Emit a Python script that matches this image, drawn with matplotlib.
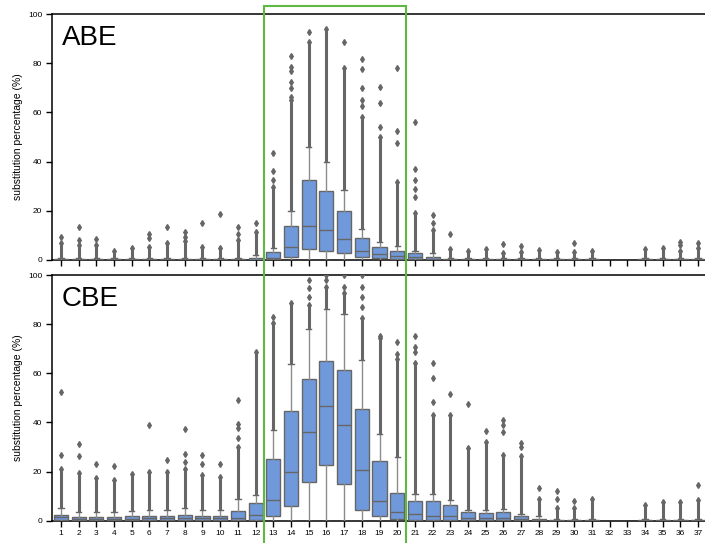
import matplotlib
matplotlib.use("Agg")
import matplotlib.pyplot as plt
import matplotlib.transforms as mtransforms
from matplotlib.patches import Rectangle

plt.rcParams['font.family'] = ['Liberation Sans', 'DejaVu Sans']

positions = list(range(1, 38))
tick_labels = [str(p) for p in positions]
N = None

# ---- ABE ----
abe_q1 = [0]*11 + [0, 0.3, 1.3, 4.3, 3.8, 2.7, 1.1, 0.7, 0.4, 0.3, 0.1] + [0]*15
abe_med = [0]*11 + [0.1, 0.8, 5.1, 13.7, 12.2, 8.4, 3.5, 2.3, 1.8, 1.1, 0.5] + [0]*15
abe_q3 = [0.3]*11 + [0.8, 3.1, 13.7, 32.4, 28.2, 19.9, 8.8, 5.1, 3.8, 2.7, 1.4] + [0.3]*15
abe_whishi = [0.7]*11 + [2.0, 4.7, 19.8, 46.0, 40.0, 28.5, 12.5, 7.2, 5.5, 3.8, 3.0] + [0.7]*15
abe_dense_top = [6.8, 6.1, 6.1, 3.8, 4.8, 5.4, 6.8, 7.9, 5.4, 4.8, 8.2, 11.2,
                 29.8, 65.0, 88.7, 93.8, 77.9, 58.3, 50.0, 31.8, 19.0, 12.2,
                 4.3, 3.8, 4.3, 2.7, 3.4, 4.1, 3.4, 3.4, 3.8, N, N, 4.6, 5.0, 3.8, 4.7]
abe_sparse = [[9.2], [13.3, 8.2], [8.6], [], [], [10.5, 8.8], [13.3], [11.2, 9.5],
              [15.0], [18.8], [13.3, 10.5], [15.1],
              [32.5, 36.0, 43.6], [66.4, 70.0, 72.5, 76.8, 78.6, 83.0], [92.5], [],
              [88.7], [62.6, 65.0, 70.0, 77.6, 81.6], [54.0, 64.0, 70.2],
              [47.7, 52.4, 78.2], [25.5, 28.9, 32.6, 36.8, 56.1], [14.9, 18.3],
              [10.6], [], [], [6.5], [5.8], [], [], [7.0], [], [], [], [], [], [7.2, 6.1], [6.8]]

# ---- CBE ----
cbe_q1 = [0.3]*11 + [0.4, 2.0, 6.2, 15.6, 22.5, 14.8, 4.3, 1.8, 0.9, 0.5, 0.5, 0.3,
                     0.2, 0.2, 0.2, 0.2] + [0]*10
cbe_med = [1.4, 0.8, 0.8, 0.8, 0.8, 1.0, 1.0, 1.0, 1.0, 1.0, 1.0, 2.2, 8.4, 19.7, 36.2,
           46.9, 39.1, 20.6, 7.9, 3.5, 2.6, 2.0, 2.0, 1.0, 1.0, 1.0, 0.7, 0.2] + [0]*9
cbe_q3 = [2.3, 1.6, 1.6, 1.6, 1.8, 2.0, 2.0, 2.2, 2.0, 2.0, 3.9, 7.2, 25.2, 44.5, 57.5,
          65.1, 61.2, 45.3, 24.3, 11.1, 8.0, 7.9, 6.4, 3.4, 3.0, 3.4, 1.9, 0.9] + [0.3]*9
cbe_whishi = [5.0, 3.5, 3.5, 3.5, 4.0, 4.5, 4.5, 5.0, 4.5, 4.5, 9.0, 10.4, 36.8, 63.6,
              78.0, 86.0, 84.0, 65.4, 35.4, 26.0, 11.0, 11.0, 8.4, 4.3, 4.3, 4.7, 2.6,
              2.0] + [0.8]*9
cbe_dense_top = [21.0, 19.3, 17.2, 16.6, 19.0, 20.0, 19.7, 21.0, 18.6, 17.8, 29.9, 68.5,
                 80.3, 88.5, 88.0, 95.0, 92.5, 82.4, 74.2, 66.0, 64.0, 43.0, 43.0, 29.7,
                 31.9, 26.7, 26.5, 9.0, 5.0, 5.3, 8.7, N, N, 6.6, 7.5, 7.7, 8.4]
cbe_sparse = [[26.7, 52.5], [26.3, 31.3], [23.1], [22.1], [], [39.0], [24.8],
              [24.0, 27.3, 37.3], [23.0, 26.7], [23.0], [33.5, 37.6, 39.5, 49.1], [],
              [82.8], [], [91.0, 94.6, 98.0], [98.0, 100.0], [95.0, 100.0],
              [87.1, 91.0, 95.0, 100.0], [75.3], [68.0, 72.6], [68.8, 70.8, 75.3],
              [48.4, 58.0, 64.0], [51.4], [47.5], [36.5], [36.2, 39.0, 41.0], [30.0, 31.8],
              [13.2], [8.7, 12.2], [8.0], [], [], [], [], [], [], [14.5]]

labels = ["ABE", "CBE"]
yticks = [0, 20, 40, 60, 80, 100]

box_face = "#7099db"
edge = "#666666"
whisk = "#8c8c8c"

fig = plt.figure(figsize=(7.05, 5.43), dpi=100)
ax_top = fig.add_axes([0.0738, 0.5212, 0.929, 0.453])
ax_bot = fig.add_axes([0.0738, 0.0410, 0.929, 0.4525])

datasets = [
    (ax_top, abe_q1, abe_med, abe_q3, abe_whishi, abe_dense_top, abe_sparse, labels[0]),
    (ax_bot, cbe_q1, cbe_med, cbe_q3, cbe_whishi, cbe_dense_top, cbe_sparse, labels[1]),
]

for ax, q1, med, q3, wh, dtop, sparse, lab in datasets:
    stats, pos = [], []
    for i, p in enumerate(positions):
        if dtop[i] is None:
            continue
        stats.append(dict(med=med[i], q1=q1[i], q3=q3[i], whislo=0.0, whishi=wh[i],
                          fliers=list(sparse[i]) + [dtop[i]]))
        pos.append(p)
        # dense flier column between whisker top and densest outlier region
        ax.vlines(p, wh[i], dtop[i], color=edge, lw=2.2, zorder=2)
    ax.bxp(stats, positions=pos, widths=0.8, patch_artist=True, showcaps=True,
           capwidths=0.3,
           boxprops=dict(facecolor=box_face, edgecolor=edge, linewidth=1.0),
           medianprops=dict(color=edge, linewidth=1.0),
           whiskerprops=dict(color=whisk, linewidth=1.0),
           capprops=dict(color=edge, linewidth=1.0),
           flierprops=dict(marker='d', markersize=3.0, markerfacecolor=edge,
                           markeredgecolor=edge, linestyle='none'),
           zorder=3)
    ax.set_xlim(0.5, 37.5)
    ax.set_ylim(0, 100)
    ax.set_yticks(yticks)
    ax.set_xticks(positions)
    ax.set_ylabel("substitution percentage (%)", fontsize=7.5, labelpad=4)
    ax.tick_params(axis='both', direction='out', length=4, width=1.0, labelsize=6,
                   color='black', pad=3)
    for s in ['left', 'top', 'bottom']:
        ax.spines[s].set_linewidth(1.1)
        ax.spines[s].set_color('black')
    ax.spines['right'].set_visible(False)
    ax.text(0.015, 0.955, lab, transform=ax.transAxes, fontsize=20, va='top', ha='left')

ax_top.set_xticklabels([])
ax_bot.set_xticklabels(tick_labels)

trans = mtransforms.blended_transform_factory(ax_bot.transData, fig.transFigure)
rect = Rectangle((12.5, -0.02), 8.0, 1.0 - 6/543 + 0.02, transform=trans, fill=False,
                 edgecolor="#5db844", linewidth=1.5, clip_on=False, zorder=10)
fig.add_artist(rect)

fig.savefig("out.png", dpi=100)
